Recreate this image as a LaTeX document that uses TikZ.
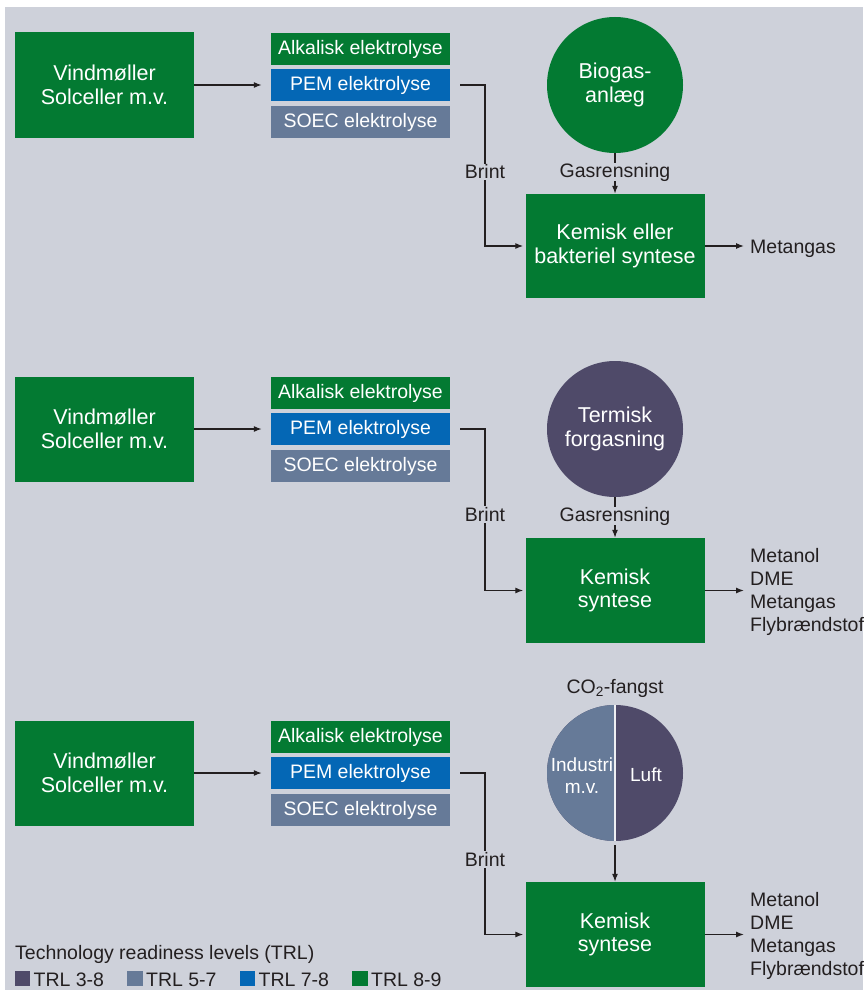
\documentclass[tikz,border=0pt]{standalone}
\usepackage{fontspec}
\setmainfont{Liberation Sans}
\usepackage{xcolor}
\usepackage{tikz}
\usetikzlibrary{positioning, arrows.meta}

\definecolor{trlgreen}{HTML}{037A32}
\definecolor{trlblue}{HTML}{0467B5}
\definecolor{trlslate}{HTML}{667A98}
\definecolor{trlpurple}{HTML}{4F4A69}
\definecolor{panelbg}{HTML}{CED1DA}
\definecolor{ink}{HTML}{231F20}

\begin{document}
\begin{tikzpicture}[x=1pt, y=-1pt, on grid,
    big/.style={rectangle, fill=trlgreen, text=white, minimum width=179pt, minimum height=105pt, inner sep=0pt, align=center, font=\fontsize{21.5}{23.5}\selectfont},
    elbox/.style={rectangle, text=white, minimum width=179pt, minimum height=32pt, inner sep=0pt, font=\fontsize{19.5}{22}\selectfont},
    src/.style={circle, minimum size=136pt, inner sep=0pt, text=white, align=center, font=\fontsize{21.5}{23.5}\selectfont},
    lbl/.style={text=ink, inner sep=1pt, font=\fontsize{19.5}{23}\selectfont},
    legsq/.style={rectangle, minimum size=15.5pt, inner sep=0pt},
    flow/.style={draw=ink, line width=1.2pt, -{Latex[length=8pt, width=6pt]}}]
        \useasboundingbox (0,0) rectangle (863,990);
        \fill[panelbg] (5,7) rectangle (863,990);

        % biogas
        \node[big] (v1) at (104.5, 85) {Vindmøller\\Solceller m.v.};
        \node[elbox, fill=trlblue] (p1) [right=256pt of v1] {PEM elektrolyse};
        \node[elbox, fill=trlgreen] (a1) [above=36pt of p1] {Alkalisk elektrolyse};
        \node[elbox, fill=trlslate] (s1) [below=37pt of p1] {SOEC elektrolyse};
        \node[src, fill=trlgreen] (c1) [right=254.5pt of p1] {Biogas-\\anlæg};
        \node[big, minimum height=104pt] (k1) [below=161pt of c1] {Kemisk eller\\bakteriel syntese};
        \node[lbl, anchor=west] (m1) at (749, 248.5) {Metangas};
        \coordinate (j1) at (485, 85);

        \draw[flow, shorten >=9pt] (v1) -- (p1);
        \draw[flow, shorten >=2pt] ([xshift=10pt]p1.east) -- (j1) |- node[lbl, fill=panelbg, pos=0.27] (b1) {Brint} (k1.west);
        \draw[flow] (c1) -- node[lbl, fill=panelbg, inner sep=0pt, pos=0.47] (g1) {Gasrensning} (k1);
        \draw[flow, shorten >=5pt] (k1.east) -- (k1.east -| m1.west);

        % termisk forgasning
        \node[big] (v2) at (104.5, 429) {Vindmøller\\Solceller m.v.};
        \node[elbox, fill=trlblue] (p2) [right=256pt of v2] {PEM elektrolyse};
        \node[elbox, fill=trlgreen] (a2) [above=36pt of p2] {Alkalisk elektrolyse};
        \node[elbox, fill=trlslate] (s2) [below=37pt of p2] {SOEC elektrolyse};
        \node[src, fill=trlpurple] (c2) [right=254.5pt of p2] {Termisk\\forgasning};
        \node[big] (k2) [below=161.5pt of c2] {Kemisk\\syntese};
        \node[lbl, anchor=west, align=left] (m2) at (749, 592) {Metanol\\DME\\Metangas\\Flybrændstof};
        \coordinate (j2) at (485, 429);

        \draw[flow, shorten >=9pt] (v2) -- (p2);
        \draw[flow, shorten >=2pt] ([xshift=10pt]p2.east) -- (j2) |- node[lbl, fill=panelbg, pos=0.265] (b2) {Brint} (k2.west);
        \draw[flow] (c2) -- node[lbl, fill=panelbg, inner sep=0pt, pos=0.47] (g2) {Gasrensning} (k2);
        \draw[flow, shorten >=5pt] (k2.east) -- (k2.east -| m2.west);

        % co2-fangst
        \node[big] (v3) at (104.5, 773) {Vindmøller\\Solceller m.v.};
        \node[elbox, fill=trlblue] (p3) [right=256pt of v3] {PEM elektrolyse};
        \node[elbox, fill=trlgreen] (a3) [above=36pt of p3] {Alkalisk elektrolyse};
        \node[elbox, fill=trlslate] (s3) [below=37pt of p3] {SOEC elektrolyse};
        \node[src, fill=trlpurple, path picture={
            \fill[trlslate] (path picture bounding box.south west) rectangle (path picture bounding box.north);
            \draw[white!65!panelbg, line width=1.5pt] (path picture bounding box.south) -- (path picture bounding box.north);
        }] (c3) [right=254.5pt of p3] {};
        \node[lbl, text=white, align=center, inner sep=0pt, font=\fontsize{19}{22}\selectfont] (i3) at (582, 776) {Industri\\m.v.};
        \node[lbl, text=white, inner sep=0pt, font=\fontsize{19}{22}\selectfont] (l3) at (646, 775) {Luft};
        \node[lbl] (f3) [above=85pt of c3] {CO\textsubscript{2}-fangst};
        \node[big] (k3) [below=161.5pt of c3] {Kemisk\\syntese};
        \node[lbl, anchor=west, align=left] (m3) at (749, 936) {Metanol\\DME\\Metangas\\Flybrændstof};
        \coordinate (j3) at (485, 773);

        \draw[flow, shorten >=9pt] (v3) -- (p3);
        \draw[flow, shorten >=2pt] ([xshift=10pt]p3.east) -- (j3) |- node[lbl, fill=panelbg, pos=0.268] (b3) {Brint} (k3.west);
        \draw[flow, shorten <=4pt] (c3) -- (k3);
        \draw[flow, shorten >=5pt] (k3.east) -- (k3.east -| m3.west);

        % legend
        \node[lbl, anchor=west] (trl) at (14, 954) {Technology readiness levels (TRL)};
        \node[legsq, fill=trlpurple] (q1) at (22.5, 978.5) {};
        \node[legsq, fill=trlslate] (q2) [right=112.5pt of q1] {};
        \node[legsq, fill=trlblue] (q3) [right=112.5pt of q2] {};
        \node[legsq, fill=trlgreen] (q4) [right=112.5pt of q3] {};
        \node[lbl, anchor=west, inner sep=0pt] (t1) at ([xshift=3pt, yshift=-1.5pt]q1.east) {TRL 3-8};
        \node[lbl, anchor=west, inner sep=0pt] (t2) at ([xshift=3pt, yshift=-1.5pt]q2.east) {TRL 5-7};
        \node[lbl, anchor=west, inner sep=0pt] (t3) at ([xshift=3pt, yshift=-1.5pt]q3.east) {TRL 7-8};
        \node[lbl, anchor=west, inner sep=0pt] (t4) at ([xshift=3pt, yshift=-1.5pt]q4.east) {TRL 8-9};
\end{tikzpicture}
\end{document}
